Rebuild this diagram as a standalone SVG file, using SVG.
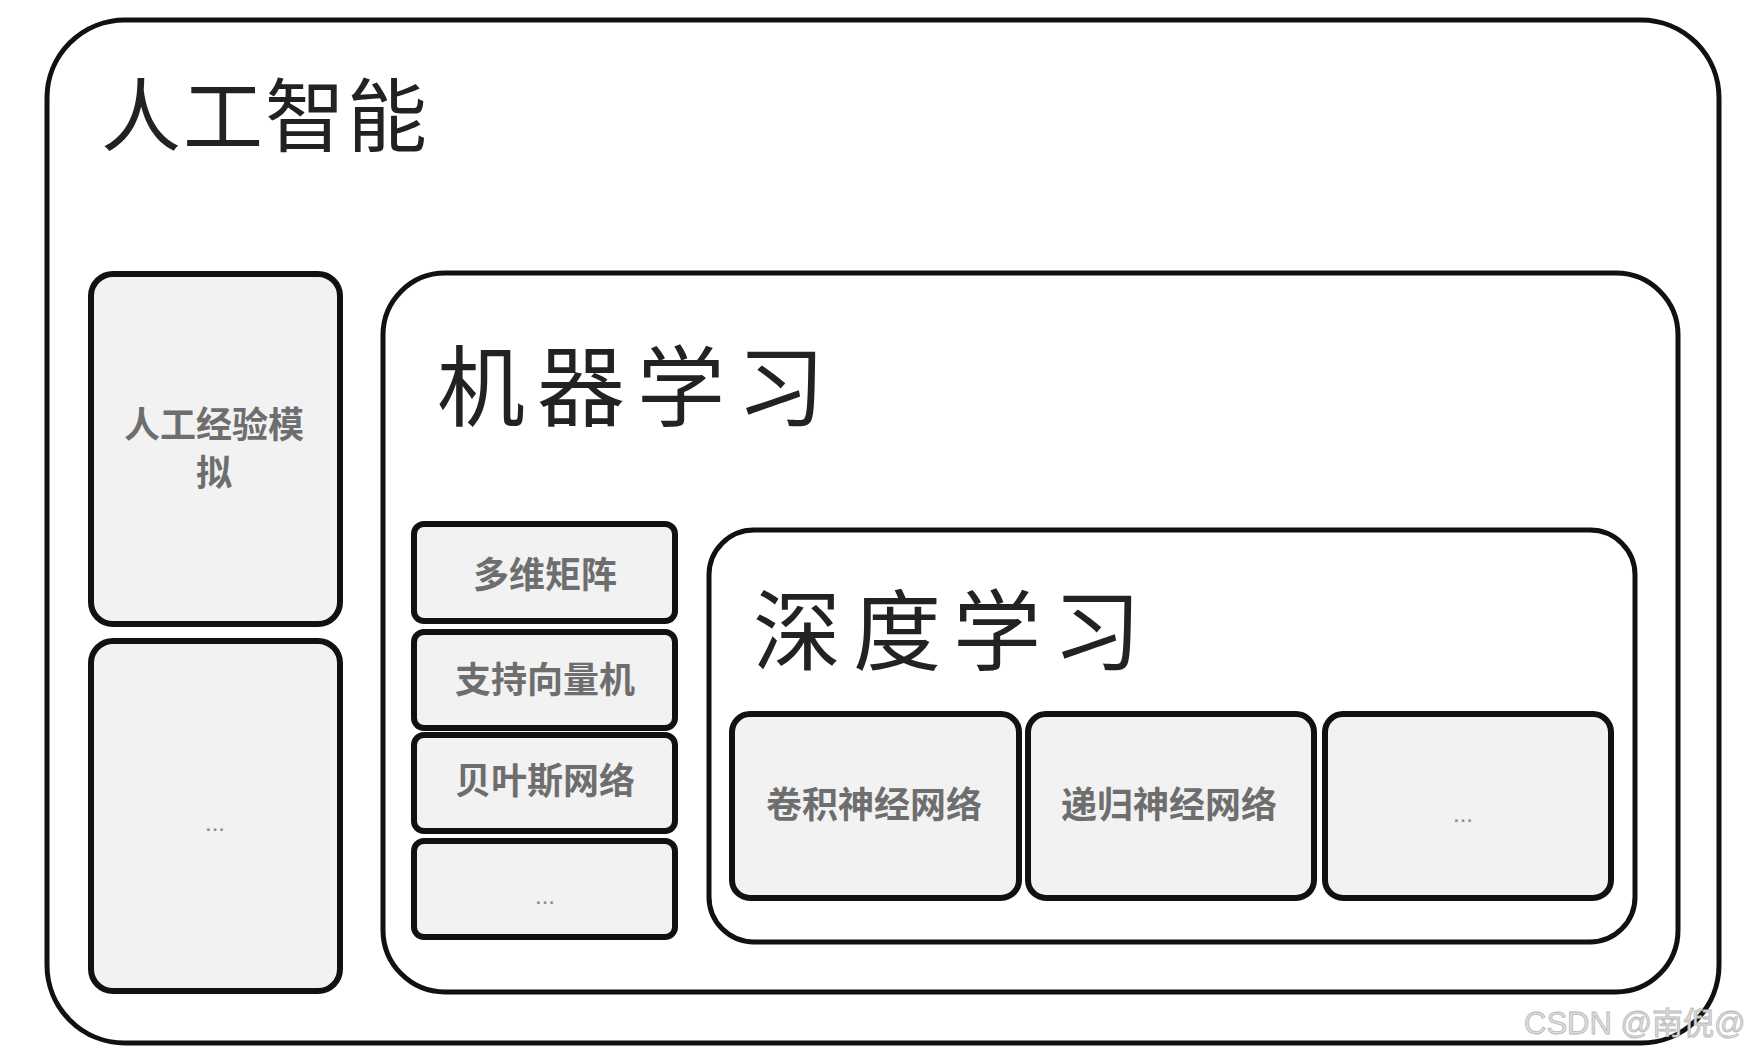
<svg xmlns="http://www.w3.org/2000/svg" width="1756" height="1053" viewBox="0 0 1756 1053">
<style>
.frame{fill:#ffffff;stroke:#111111;stroke-width:5}
.box{fill:#f2f2f2;stroke:#111111;stroke-width:6}
.title{font-family:"Noto Sans CJK SC","Noto Sans",sans-serif;fill:#222222;dominant-baseline:central}
.lbl{font-family:"Noto Sans CJK SC","Noto Sans",sans-serif;font-weight:bold;fill:#6e6e6e;font-size:36px;text-anchor:middle;dominant-baseline:central}
.dots{font-family:"Liberation Sans",sans-serif;fill:#8a8a8a;font-size:24px;text-anchor:middle;dominant-baseline:central}
.wm{font-family:"Liberation Sans","Noto Sans CJK SC",sans-serif;fill:#dddddd;stroke:#b8b8b8;stroke-width:0.8;font-size:31px;dominant-baseline:central}
</style>
<rect width="1756" height="1053" fill="#ffffff"/>
<g id="ai">
  <rect class="frame" x="47" y="20" width="1672" height="1023" rx="78" ry="78"/>
  <text class="title" x="101" y="110" font-size="80" letter-spacing="2">人工智能</text>
</g>
<g id="expert">
  <rect class="box" x="91" y="274" width="249" height="350" rx="22" ry="22"/>
  <text class="lbl" x="214" y="422" font-size="34">人工经验模</text>
  <text class="lbl" x="214" y="470" font-size="34">拟</text>
</g>
<g id="left-more">
  <rect class="box" x="91" y="641" width="249" height="350" rx="22" ry="22"/>
  <text class="dots" x="215" y="822">...</text>
</g>
<g id="ml">
  <rect class="frame" x="383" y="273" width="1295" height="719" rx="62" ry="62"/>
  <text class="title" x="437" y="380" font-size="88" letter-spacing="12">机器学习</text>
</g>
<g id="matrix">
  <rect class="box" x="414" y="524" width="261" height="97" rx="10" ry="10"/>
  <text class="lbl" x="545" y="572">多维矩阵</text>
</g>
<g id="svm">
  <rect class="box" x="414" y="632" width="261" height="96" rx="10" ry="10"/>
  <text class="lbl" x="545" y="677">支持向量机</text>
</g>
<g id="bayes">
  <rect class="box" x="414" y="735" width="261" height="96" rx="10" ry="10"/>
  <text class="lbl" x="545" y="778">贝叶斯网络</text>
</g>
<g id="ml-more">
  <rect class="box" x="414" y="841" width="261" height="96" rx="10" ry="10"/>
  <text class="dots" x="545" y="895">...</text>
</g>
<g id="dl">
  <rect class="frame" x="709" y="530" width="926" height="412" rx="45" ry="45"/>
  <text class="title" x="753" y="624" font-size="88" letter-spacing="12">深度学习</text>
</g>
<g id="cnn">
  <rect class="box" x="732" y="714" width="287" height="184" rx="18" ry="18"/>
  <text class="lbl" x="874" y="802">卷积神经网络</text>
</g>
<g id="rnn">
  <rect class="box" x="1028" y="714" width="286" height="184" rx="18" ry="18"/>
  <text class="lbl" x="1169" y="802">递归神经网络</text>
</g>
<g id="dl-more">
  <rect class="box" x="1325" y="714" width="286" height="184" rx="18" ry="18"/>
  <text class="dots" x="1463" y="813">...</text>
</g>
<g id="connectors"></g>
<text class="wm" x="1524" y="1023">CSDN @南倪@</text>
</svg>
